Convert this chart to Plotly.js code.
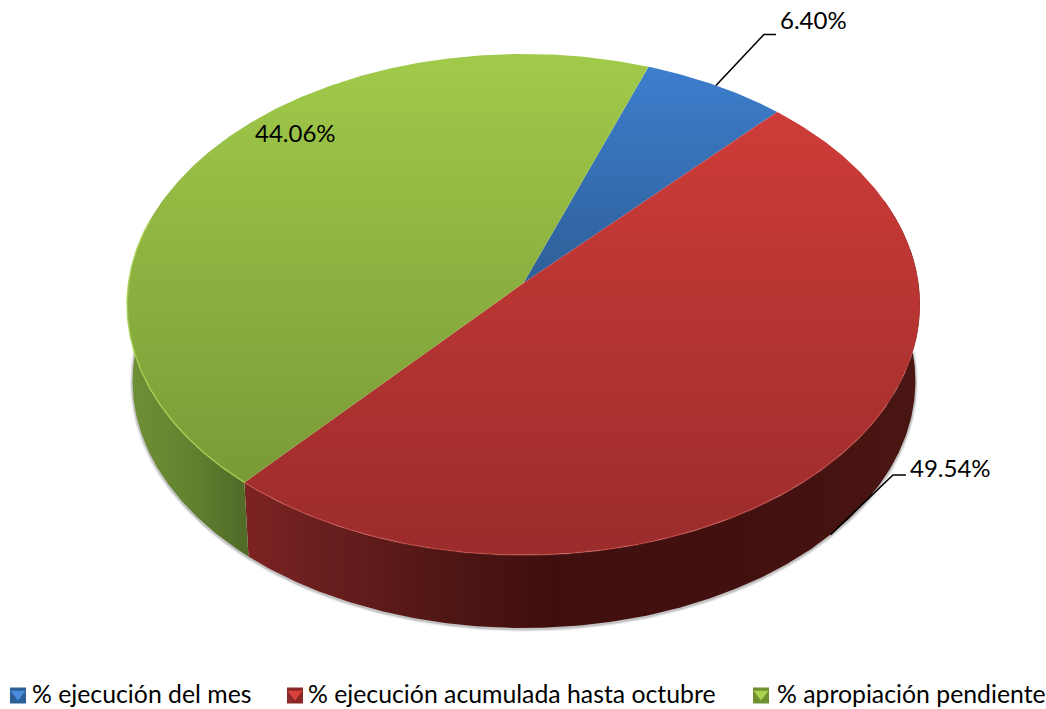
<!DOCTYPE html>
<html>
<head>
<meta charset="utf-8">
<script src="https://cdn.plot.ly/plotly-3.0.1.min.js"></script>
<style>html,body{margin:0;padding:0;background:#fff}#chart{width:1046px;height:709px}</style>
</head>
<body>
<div id="chart"></div>
<script>
// Data
const categories = ['% ejecución del mes', '% ejecución acumulada hasta octubre', '% apropiación pendiente'];
const values = [6.40, 49.54, 44.06];
const labelText = values.map(v => v.toFixed(2) + '%');

// Styles
const FONT = 'Lato, "Open Sans", sans-serif';
const topScales = [
  [[0, '#3d7ecd'], [1, '#2e5f98']],
  [[0, '#ce3c38'], [1, '#9a2c2b']],
  [[0, '#a1ca4a'], [1, '#7a9a37']]
];
const topSpan = [[67, 283], [112, 555], [54, 482]];
const keyDark = ['#2c5f96', '#8c2826', '#6f8f30'];
const keyLight = ['#4a8cdc', '#d8413c', '#a9d24f'];

// Projection of the disc: top face and bottom face
const persp = 0.0858;
const topFace = {cx: 523.5, cy: 283, a: 395, b: 248.7};
const botFace = {cx: 524, cy: 360, a: 390, b: 245};
const start = 20;
function rim(f, deg) {
  const t = deg * Math.PI / 180, u = Math.sin(t), v = Math.cos(t), d = 1 + persp * v;
  return [f.cx + f.a * u / d, f.cy - f.b * v / d];
}
function arc(f, d0, d1) {
  const pts = [], n = Math.max(2, Math.ceil(Math.abs(d1 - d0) * 2));
  for (let i = 0; i <= n; i++) pts.push(rim(f, d0 + (d1 - d0) * i / n));
  return pts;
}
const total = values.reduce((a, b) => a + b, 0);
const edges = [start];
values.forEach(v => edges.push(edges[edges.length - 1] + v / total * 360));
const mids = values.map((v, i) => (edges[i] + edges[i + 1]) / 2);

function xy(pts) { return {x: pts.map(p => p[0]), y: pts.map(p => p[1])}; }
function area(pts, grad, name) {
  return Object.assign(xy(pts), {
    type: 'scatter', mode: 'lines', line: {width: 0}, fill: 'toself',
    fillgradient: grad, hoverinfo: 'skip', showlegend: false, name: name
  });
}
function stroke(pts, color, width) {
  return Object.assign(xy(pts), {
    type: 'scatter', mode: 'lines', line: {color: color, width: width, shape: 'linear'},
    hoverinfo: 'skip', showlegend: false
  });
}

const traces = [];

// Soft shadow round the base
const baseCurve = arc(botFace, 88, 272);
[[6, 'rgba(0,0,0,0.05)'], [4, 'rgba(0,0,0,0.08)'], [2.5, 'rgba(0,0,0,0.12)']].forEach(s => {
  traces.push(stroke(baseCurve.map(p => [p[0], p[1] + 1]), s[1], s[0]));
});

// Side walls
function wall(d0, d1, stops, x0, x1, name) {
  const pts = arc(topFace, d0, d1).concat(arc(botFace, d1, d0));
  pts.push(pts[0]);
  return area(pts, {type: 'horizontal', start: x0, stop: x1, colorscale: stops}, name);
}
const redWall = [[0, '#7d2322'], [0.1, '#6b1f1f'], [0.3, '#4f1614'], [0.45, '#3f0f0e'], [0.8, '#43110f'], [1, '#4a1613']];
const greenWall = [[0, '#6f8f35'], [0.5, '#628230'], [1, '#506a27']];
traces.push(wall(edges[1] + 27, edges[2], redWall, 246, 920, categories[1] + ' lateral'));
traces.push(wall(edges[2], 290, greenWall, 130, 248, categories[2] + ' lateral'));

// Top face slices
values.forEach((v, i) => {
  const pts = [[topFace.cx, topFace.cy]].concat(arc(topFace, edges[i], edges[i + 1]));
  pts.push(pts[0]);
  traces.push(area(pts, {type: 'vertical', start: topSpan[i][0], stop: topSpan[i][1], colorscale: topScales[i]}, categories[i]));
});

// Rim highlights
traces.push(stroke(arc(topFace, edges[1] + 75, edges[2]), 'rgba(226,96,90,0.4)', 1.5));
traces.push(stroke(arc(topFace, edges[2], 285), 'rgba(172,212,84,0.8)', 1.5));

// Leader lines
const p0 = rim(topFace, mids[0]);
traces.push(stroke([p0, [p0[0] + 48, p0[1] - 51], [p0[0] + 60, p0[1] - 51]], '#000', 1.6));
const p1 = rim(botFace, mids[1]);
traces.push(stroke([p1, [893, 475], [906, 475]], '#000', 1.6));

// Legend keys
const keyX = [18, 295, 761];
const keyY = [695.5, 695.5, 695.5];
traces.push({x: keyX, y: keyY, type: 'scatter', mode: 'markers', hoverinfo: 'skip', showlegend: false,
  marker: {symbol: 'square', size: 16, color: keyDark, line: {width: 0}}});
traces.push({x: keyX, y: keyY.map(y => y - 1.5), type: 'scatter', mode: 'markers', hoverinfo: 'skip', showlegend: false,
  marker: {symbol: 'triangle-down', size: 13, color: keyLight, line: {width: 0}}});

const labelPos = [[813, 19], [950, 467], [295, 132]];
const keyTextX = [30, 306, 775];
const annotations = labelText.map((t, i) => ({
  text: t, x: labelPos[i][0], y: labelPos[i][1], xref: 'x', yref: 'y',
  showarrow: false, xanchor: 'center', yanchor: 'middle',
  font: {family: FONT, size: 24, color: '#000'}
})).concat(categories.map((c, i) => ({
  text: c, x: keyTextX[i], y: 693, xref: 'x', yref: 'y',
  showarrow: false, xanchor: 'left', yanchor: 'middle',
  font: {family: FONT, size: 24.8, color: '#000'}
})));

const layout = {
  width: 1046, height: 709,
  margin: {l: 0, r: 0, t: 0, b: 0},
  paper_bgcolor: '#fff', plot_bgcolor: '#fff',
  showlegend: false,
  hovermode: false,
  xaxis: {range: [0, 1046], visible: false, fixedrange: true},
  yaxis: {range: [709, 0], visible: false, fixedrange: true},
  annotations: annotations
};
Plotly.newPlot('chart', traces, layout, {displayModeBar: false, staticPlot: true});
</script>
</body>
</html>
